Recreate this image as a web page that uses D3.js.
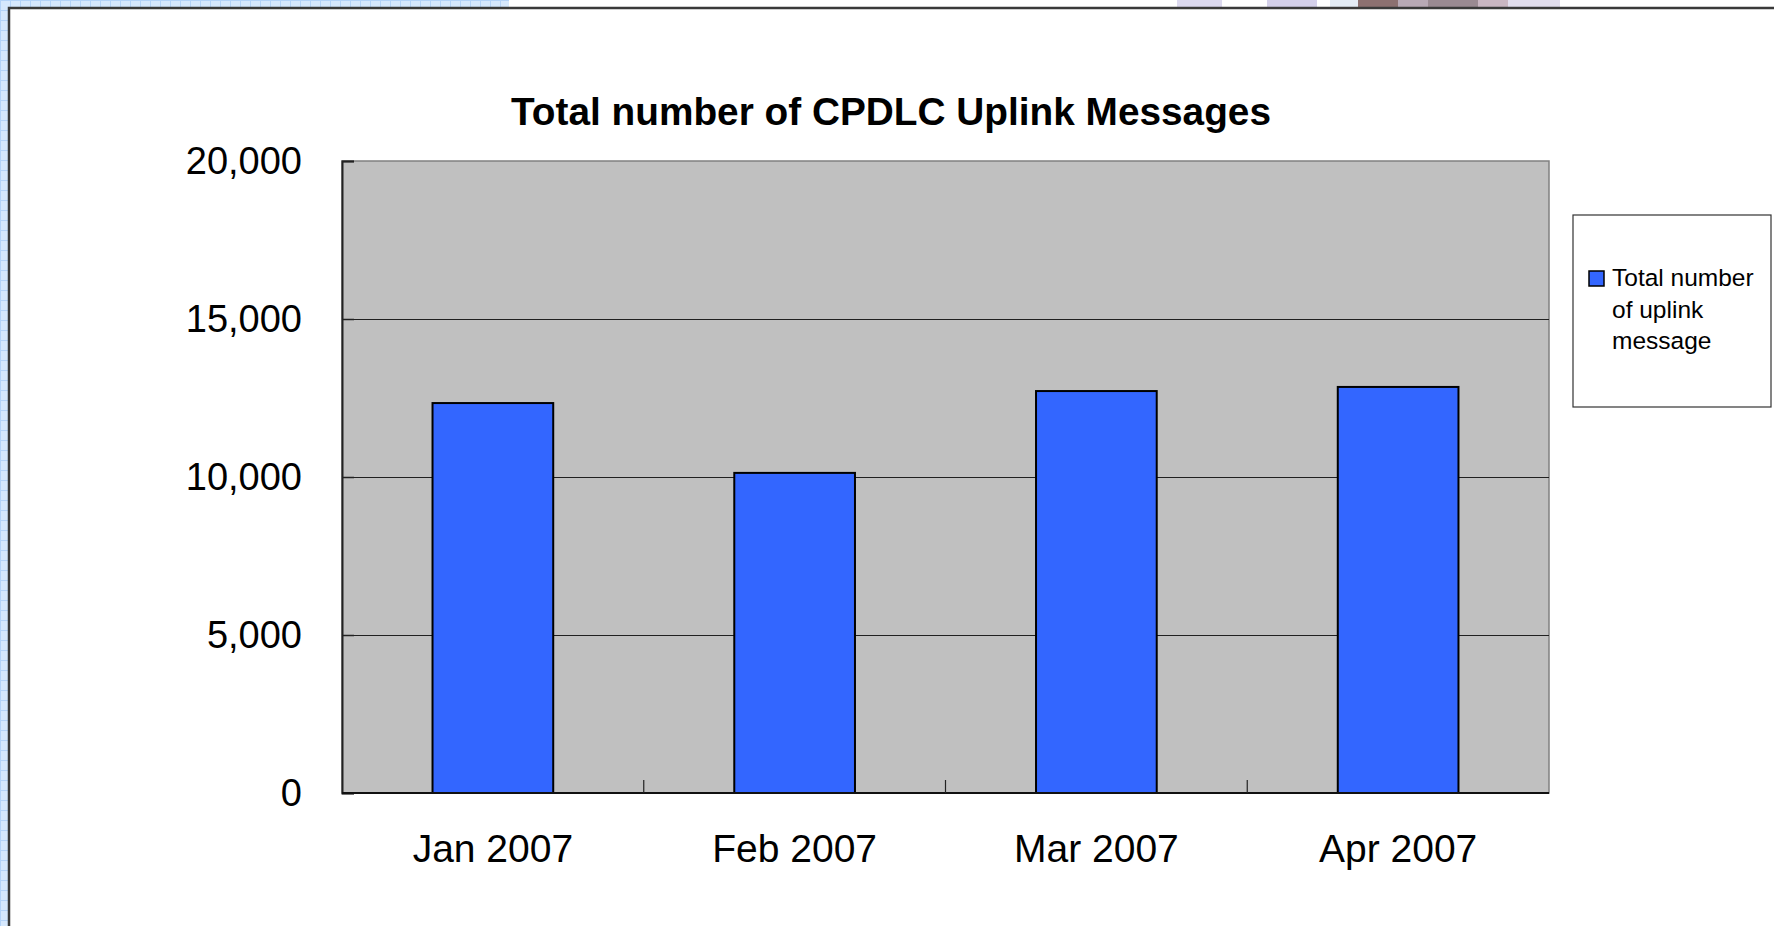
<!DOCTYPE html>
<html>
<head>
<meta charset="utf-8">
<script src="https://cdn.jsdelivr.net/npm/d3@7"></script>
<style>
  body { margin: 0; background: #fff; }
  svg { display: block; font-family: "Liberation Sans", Arial, sans-serif; }
</style>
</head>
<body>
<div id="chart"></div>
<script>
// Chart data
const months = ["Jan 2007", "Feb 2007", "Mar 2007", "Apr 2007"];
const uplinkCounts = [12340, 10130, 12720, 12850];
const yTicks = [0, 5000, 10000, 15000, 20000];
const titleText = "Total number of CPDLC Uplink Messages";
const legendLines = ["Total number", "of uplink", "message"];

const width = 1774, height = 926;
const plot = {left: 342, right: 1549, top: 161, bottom: 793};

const svg = d3.select("#chart").append("svg")
    .attr("width", width)
    .attr("height", height);

// Light blue grid paper behind the slide frame
const defs = svg.append("defs");
const pat = defs.append("pattern")
    .attr("id", "paper")
    .attr("width", 10).attr("height", 10)
    .attr("patternUnits", "userSpaceOnUse");
pat.append("rect").attr("width", 10).attr("height", 10).attr("fill", "#d6e8fd");
pat.append("path").attr("d", "M0,0.5H10M0.5,0V10")
    .attr("stroke", "#b4d3f8").attr("stroke-width", 1);

svg.append("rect").attr("x", 0).attr("y", 0).attr("width", 509).attr("height", 8).attr("fill", "url(#paper)");
svg.append("rect").attr("x", 0).attr("y", 0).attr("width", 8).attr("height", height).attr("fill", "url(#paper)");

// bits of a picture peeking in above the frame
const peek = [[1177, 45, "#dcd9ef"], [1267, 50, "#d4d0ea"], [1330, 28, "#e4ecf6"], [1358, 40, "#8c7070"],
              [1398, 30, "#b8a9b5"], [1428, 50, "#9a8a92"], [1478, 30, "#c9b6c2"], [1508, 52, "#e2deee"]];
peek.forEach(p => svg.append("rect").attr("x", p[0]).attr("y", 0).attr("width", p[1]).attr("height", 7).attr("fill", p[2]));

// frame lines
svg.append("path")
    .attr("d", "M9," + height + "V8H" + width)
    .attr("fill", "none")
    .attr("stroke", "#3a3a3a")
    .attr("stroke-width", 2.5);

// Scales
const x = d3.scaleBand()
    .domain(months)
    .range([plot.left, plot.right])
    .paddingInner(0.6)
    .paddingOuter(0.3);

const y = d3.scaleLinear()
    .domain([0, 20000])
    .range([plot.bottom, plot.top]);

// Plot area background
svg.append("rect")
    .attr("x", plot.left).attr("y", plot.top)
    .attr("width", plot.right - plot.left)
    .attr("height", plot.bottom - plot.top)
    .attr("fill", "#c0c0c0")
    .attr("stroke", "#808080")
    .attr("stroke-width", 1.5);

// Gridlines
svg.append("g")
    .attr("transform", "translate(" + plot.left + ",0)")
    .call(d3.axisLeft(y).tickValues(yTicks.slice(1, -1)).tickSize(-(plot.right - plot.left)).tickFormat(""))
    .call(g => g.select(".domain").remove())
    .selectAll("line").attr("stroke", "#202020").attr("stroke-width", 1);

// Bars
svg.selectAll(".bar")
    .data(months)
    .enter().append("rect")
    .attr("class", "bar")
    .attr("x", d => x(d))
    .attr("y", (d, i) => y(uplinkCounts[i]))
    .attr("width", x.bandwidth())
    .attr("height", (d, i) => y(0) - y(uplinkCounts[i]))
    .attr("fill", "#3366ff")
    .attr("stroke", "#000")
    .attr("stroke-width", 2);

// Y axis
const yAxis = svg.append("g")
    .attr("transform", "translate(" + plot.left + ",0)")
    .call(d3.axisLeft(y).tickValues(yTicks).tickFormat(d3.format(",")).tickSize(-12).tickPadding(40));
yAxis.select(".domain").attr("stroke", "#222").attr("stroke-width", 2);
yAxis.selectAll("line").attr("stroke", "#222").attr("stroke-width", 1.5);
yAxis.selectAll("text").attr("font-size", 38).attr("fill", "#000");

// X axis labels
const xAxis = svg.append("g")
    .attr("transform", "translate(0," + plot.bottom + ")")
    .call(d3.axisBottom(x).tickSize(0).tickPadding(41));
xAxis.select(".domain").remove();
xAxis.selectAll("text").attr("font-size", 39).attr("fill", "#000");

// X axis line and category boundary ticks
svg.append("line")
    .attr("x1", plot.left).attr("x2", plot.right)
    .attr("y1", plot.bottom).attr("y2", plot.bottom)
    .attr("stroke", "#111").attr("stroke-width", 2);

svg.selectAll(".xtick")
    .data(months.slice(0, -1))
    .enter().append("line")
    .attr("class", "xtick")
    .attr("x1", d => x(d) + x.bandwidth() / 2 + x.step() / 2)
    .attr("x2", d => x(d) + x.bandwidth() / 2 + x.step() / 2)
    .attr("y1", plot.bottom).attr("y2", plot.bottom - 13)
    .attr("stroke", "#222").attr("stroke-width", 1.2);

// Title
svg.append("text")
    .attr("x", 891)
    .attr("y", 125)
    .attr("text-anchor", "middle")
    .attr("font-size", 38)
    .attr("font-weight", "bold")
    .attr("textLength", 760)
    .attr("lengthAdjust", "spacingAndGlyphs")
    .text(titleText);

// Legend
const legend = svg.append("g");
legend.append("rect")
    .attr("x", 1573).attr("y", 215)
    .attr("width", 198).attr("height", 192)
    .attr("fill", "#fff")
    .attr("stroke", "#333").attr("stroke-width", 1.2);
legend.append("rect")
    .attr("x", 1589).attr("y", 271)
    .attr("width", 15).attr("height", 15)
    .attr("fill", "#3366ff")
    .attr("stroke", "#000").attr("stroke-width", 1.5);
legend.selectAll(".legend-line")
    .data(legendLines)
    .enter().append("text")
    .attr("class", "legend-line")
    .attr("x", 1612)
    .attr("y", (d, i) => 286 + i * 31.5)
    .attr("font-size", 24.5)
    .text(d => d);
</script>
</body>
</html>
